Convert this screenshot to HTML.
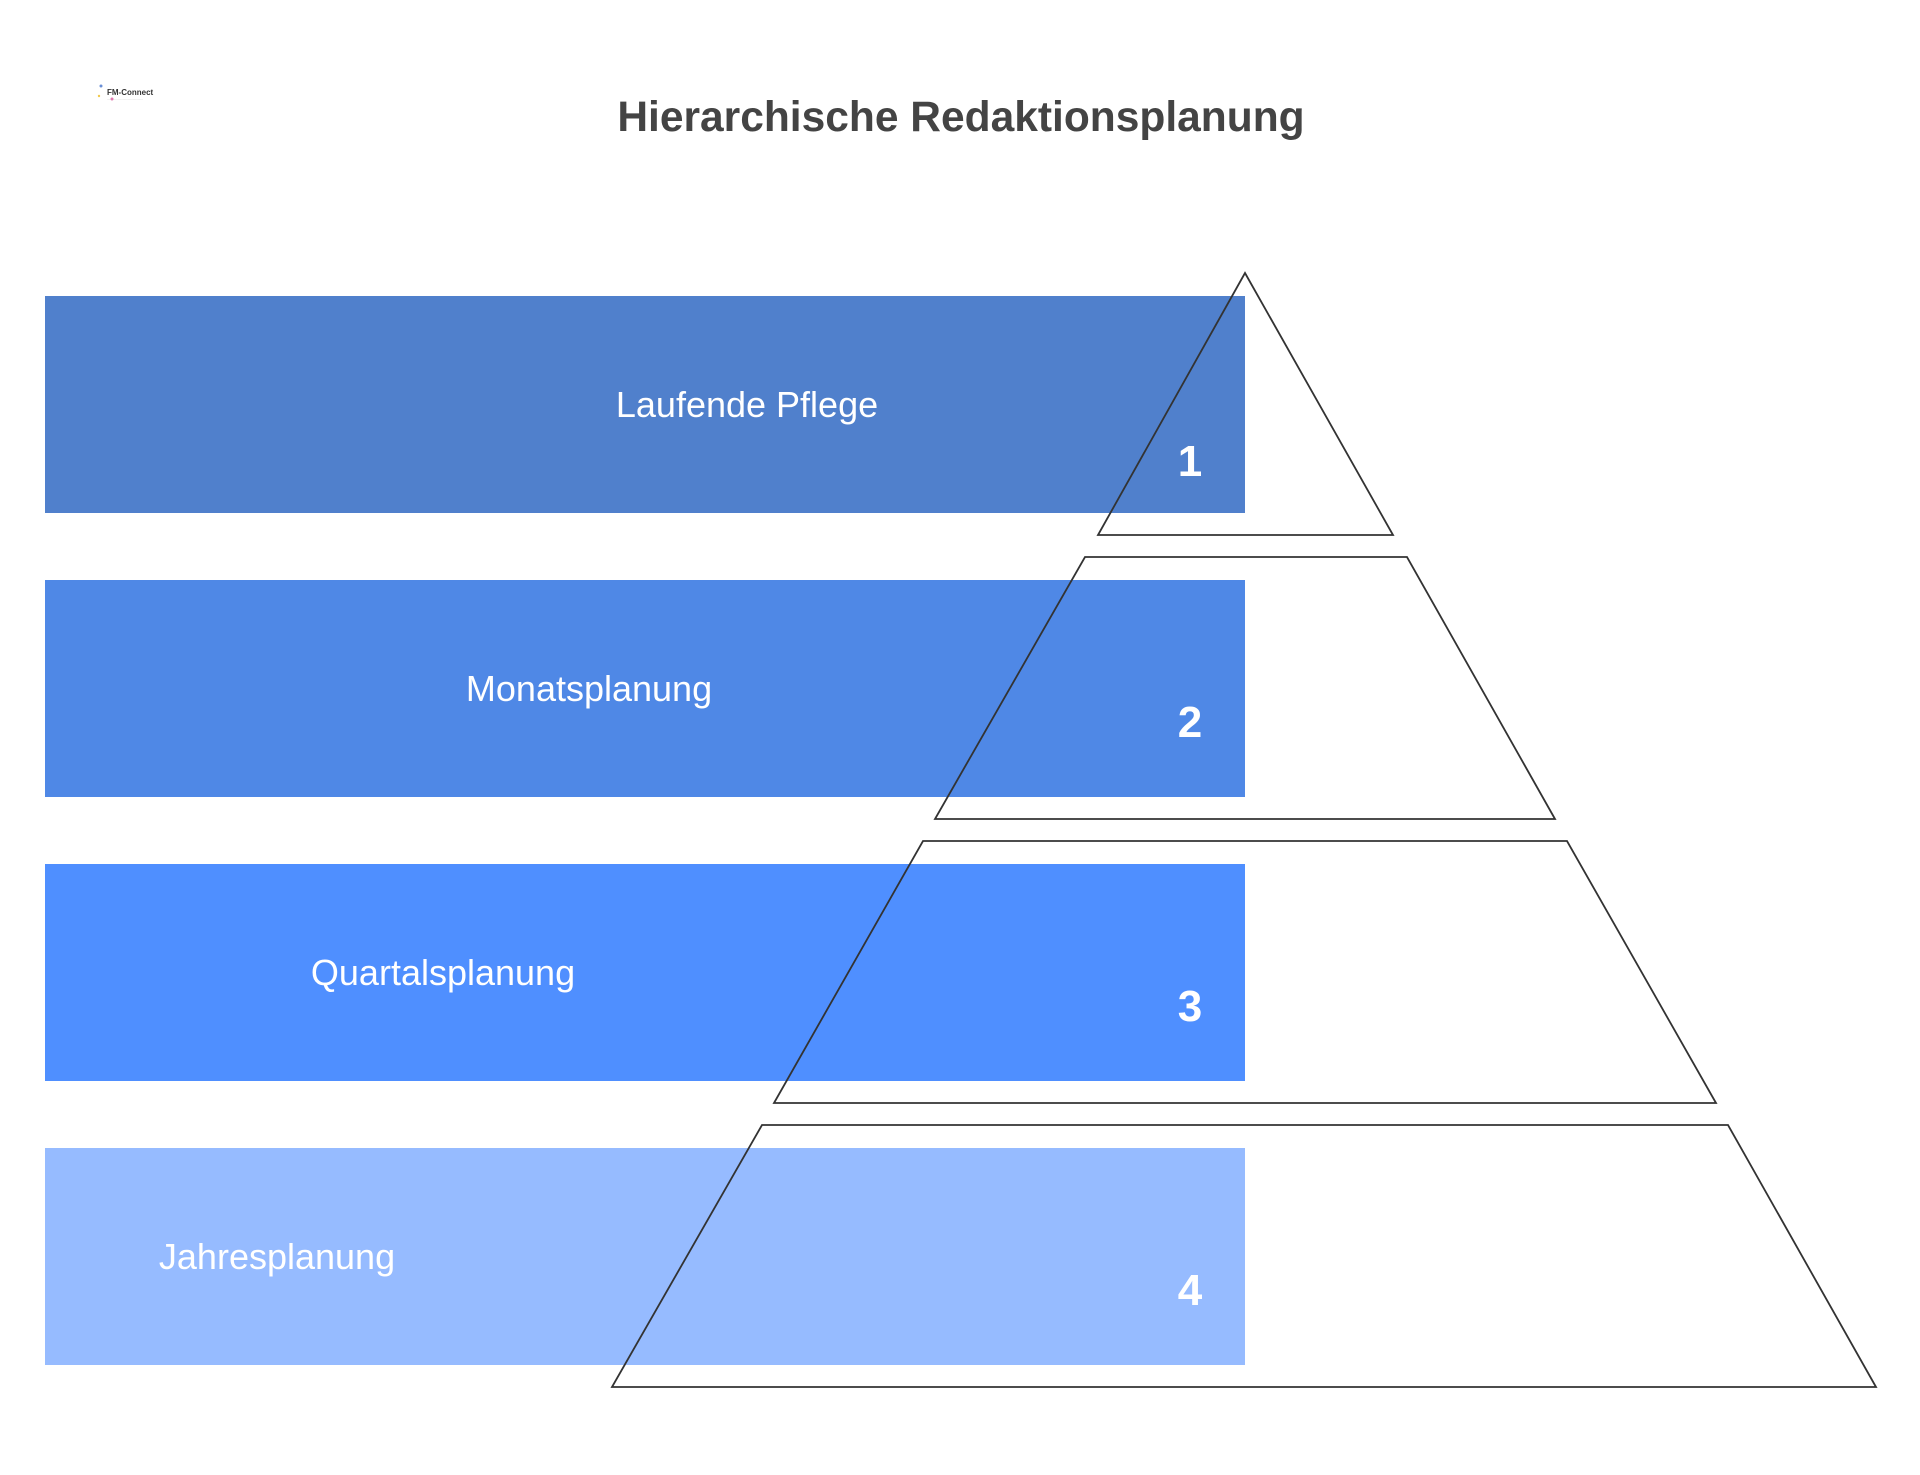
<!DOCTYPE html>
<html><head><meta charset="utf-8"><style>
html,body{margin:0;padding:0;background:#fff;}
body{width:1920px;height:1475px;position:relative;overflow:hidden;font-family:"Liberation Sans",sans-serif;}
</style></head><body>
<svg width="1920" height="1475" xmlns="http://www.w3.org/2000/svg" style="position:absolute;left:0;top:0">
<g font-family="Liberation Sans, sans-serif">
<text x="107" y="95" font-size="8" fill="#333" font-weight="bold">FM-Connect</text>
<text x="107" y="100" font-size="3" fill="#777">...........................................</text>
<circle cx="101" cy="86" r="1.5" fill="#6a8fd6"/><circle cx="112" cy="99" r="1.5" fill="#e07ab0"/><circle cx="99" cy="96" r="1.2" fill="#f2c94c"/>
<text x="961" y="131" font-size="42.5" font-weight="bold" fill="#444" text-anchor="middle">Hierarchische Redaktionsplanung</text>
<rect x="45" y="296" width="1200" height="217" fill="#5080CC"/>
<rect x="45" y="580" width="1200" height="217" fill="#4F88E6"/>
<rect x="45" y="864" width="1200" height="217" fill="#4F8FFF"/>
<rect x="45" y="1148" width="1200" height="217" fill="#96BBFF"/>
<g fill="none" stroke="#333" stroke-width="1.8">
<polygon points="1245,273 1393,535 1098,535"/>
<polygon points="1085,557 1407,557 1555,819 935,819"/>
<polygon points="923,841 1567,841 1716,1103 774,1103"/>
<polygon points="762,1125 1728,1125 1876,1387 612,1387"/>
</g>
<g fill="#fff" font-size="36" text-anchor="middle">
<text x="747" y="417">Laufende Pflege</text>
<text x="589" y="701">Monatsplanung</text>
<text x="443" y="985">Quartalsplanung</text>
<text x="277" y="1269">Jahresplanung</text>
</g>
<g fill="#fff" font-size="44" font-weight="bold" text-anchor="middle">
<text x="1190" y="476">1</text>
<text x="1190" y="737">2</text>
<text x="1190" y="1021">3</text>
<text x="1190" y="1305">4</text>
</g>
</g>
</svg>
</body></html>
